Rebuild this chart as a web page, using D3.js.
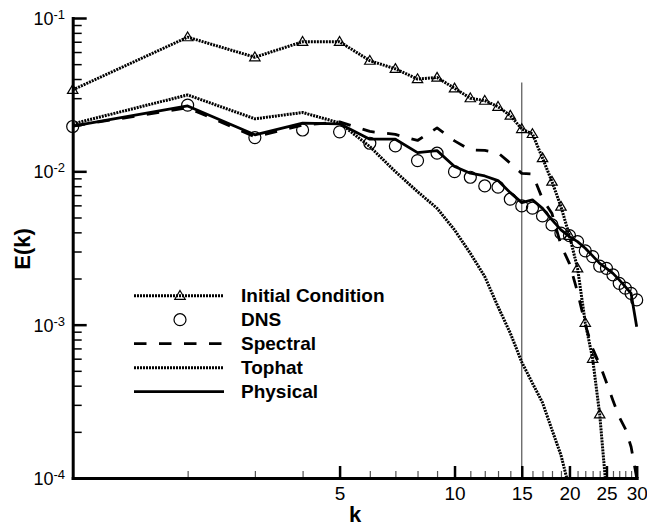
<!DOCTYPE html>
<html>
<head>
<meta charset="utf-8">
<script src="https://cdn.jsdelivr.net/npm/d3@7/dist/d3.min.js"></script>
<style>
  body { margin: 0; background: #fff; }
  svg { display: block; font-family: "Liberation Sans", Arial, Helvetica, sans-serif; }
</style>
</head>
<body>
<script>
// wavenumbers
const kValues = [1, 2, 3, 4, 5, 6, 7, 8, 9, 10, 11, 12, 13, 14, 15,
  16, 17, 18, 19, 20, 21, 22, 23, 24, 25, 26, 27, 28, 29, 30];

// E(k)
const initialCondition = [0.034, 0.075, 0.0555, 0.070, 0.070, 0.0527, 0.0466, 0.040, 0.0409, 0.0348,
  0.030, 0.0289, 0.0264, 0.0231, 0.0189, 0.01754, 0.0122, 0.00857, 0.00589, 0.0038,
  0.00233, 0.00103, 0.0006, 0.00026, 0.000081];
const dns = [0.0196, 0.027, 0.0166, 0.0186, 0.0181, 0.01525, 0.01465, 0.01175, 0.01313, 0.00995,
  0.00915, 0.00803, 0.00788, 0.00658, 0.00595, 0.00575, 0.00512, 0.00447, 0.00395, 0.00381,
  0.00348, 0.00303, 0.00278, 0.00241, 0.00233, 0.00211, 0.00186, 0.00173, 0.0016, 0.00145];
const spectral = [0.0197, 0.026, 0.0168, 0.0200, 0.021, 0.0182, 0.0174, 0.0159, 0.0192, 0.0158,
  0.0138, 0.0137, 0.0132, 0.0113, 0.0097, 0.0096, 0.0066, 0.0053, 0.0033, 0.0025,
  0.00163, 0.0010, 0.0007, 0.00055, 0.00042, 0.00032, 0.00025, 0.00021, 0.00016, 0.0001];
const tophat = [0.0204, 0.0315, 0.022, 0.0242, 0.0207, 0.0145, 0.00995, 0.00737, 0.00574, 0.00415,
  0.00292, 0.00206, 0.00131, 0.00088, 0.00057, 0.000415, 0.00031, 0.000206, 0.000141, 0.000085];
const physical = [0.0197, 0.0267, 0.0173, 0.0206, 0.0204, 0.0162, 0.0162, 0.01325, 0.01365, 0.01074,
  0.00972, 0.00933, 0.0087, 0.00726, 0.00625, 0.00651, 0.00574, 0.00482, 0.00415, 0.00375,
  0.00348, 0.00315, 0.00281, 0.00251, 0.00233, 0.00216, 0.00196, 0.00177, 0.0016, 0.00097];

// filter cutoff marker
const cutoffK = 15;
const cutoffRange = [1e-4, 0.038];

// ticks
const xMajorTicks = [5, 10, 15, 20, 25, 30];
const yMajorTicks = [1e-4, 1e-3, 1e-2, 1e-1];
const yTickExponents = ['-4', '-3', '-2', '-1'];

const series = [
  { name: 'Initial Condition', values: initialCondition, dash: '2,1', width: 3, marker: 'triangle' },
  { name: 'DNS', values: dns, line: false, marker: 'circle' },
  { name: 'Spectral', values: spectral, dash: '12.5,12.5', width: 2.8 },
  { name: 'Tophat', values: tophat, dash: '2,1', width: 3 },
  { name: 'Physical', values: physical, width: 2.8 }
];

const W = 647, H = 527;
const x = d3.scaleLog().domain([1, 30]).range([72.7, 636.7]);
const y = d3.scaleLog().domain([1e-4, 1e-1]).range([478, 18]);

const svg = d3.select('body').append('svg')
  .attr('width', W)
  .attr('height', H);

svg.append('clipPath').attr('id', 'plot')
  .append('rect')
  .attr('x', x(1)).attr('y', y(1e-1))
  .attr('width', x(30) - x(1) + 2)
  .attr('height', y(1e-4) - y(1e-1));

const line = d3.line()
  .x((d, i) => x(kValues[i]))
  .y(d => y(d));

const triangle = 'M0,-5.2L5.2,3.6L-5.2,3.6Z';

function drawMarker(g, type, cx, cy) {
  if (type === 'circle') {
    g.append('circle')
      .attr('cx', cx).attr('cy', cy).attr('r', 6)
      .attr('fill', 'none').attr('stroke', '#000').attr('stroke-width', 1.2);
  } else if (type === 'triangle') {
    g.append('path')
      .attr('d', triangle)
      .attr('transform', `translate(${cx},${cy})`)
      .attr('fill', 'none').attr('stroke', '#000').attr('stroke-width', 1.2);
  }
}

// cutoff line at k = 15
svg.append('line')
  .attr('x1', x(cutoffK)).attr('x2', x(cutoffK))
  .attr('y1', y(cutoffRange[1])).attr('y2', y(cutoffRange[0]))
  .attr('stroke', '#555').attr('stroke-width', 1.2);

const gLines = svg.append('g').attr('clip-path', 'url(#plot)');
series.forEach(s => {
  if (s.line === false) return;
  gLines.append('path')
    .attr('d', line(s.values))
    .attr('fill', 'none')
    .attr('stroke', '#000')
    .attr('stroke-width', s.width)
    .attr('stroke-dasharray', s.dash || null)
    .attr('stroke-linejoin', 'round');
});

const gMarks = svg.append('g');
series.forEach(s => {
  if (!s.marker) return;
  s.values.forEach((v, i) => {
    if (v < 1e-4) return;
    drawMarker(gMarks, s.marker, x(kValues[i]), y(v));
  });
});

// x axis: minor then major
const xMinor = d3.range(2, 30).filter(v => !xMajorTicks.includes(v));
svg.append('g')
  .attr('transform', `translate(0,${y(1e-4)})`)
  .call(d3.axisBottom(x).tickValues(xMinor).tickSizeInner(-7).tickSizeOuter(0).tickFormat(''))
  .call(g => g.select('.domain').remove())
  .call(g => g.selectAll('.tick line').attr('stroke', '#555').attr('stroke-width', 1.2));

svg.append('g')
  .attr('transform', `translate(0,${y(1e-4)})`)
  .call(d3.axisBottom(x).tickValues(xMajorTicks).tickSizeInner(-12).tickSizeOuter(0)
    .tickPadding(8.5).tickFormat(d3.format('d')))
  .call(g => g.select('.domain').attr('stroke-width', 3).attr('stroke-linecap', 'square'))
  .call(g => g.selectAll('.tick line').attr('stroke-width', 2.5))
  .call(g => g.selectAll('.tick text').attr('font-size', 19).attr('fill', '#000'));

// y axis
const yMinor = [];
[1e-4, 1e-3, 1e-2].forEach(p => d3.range(2, 10).forEach(m => yMinor.push(p * m)));
svg.append('g')
  .attr('transform', `translate(${x(1)},0)`)
  .call(d3.axisLeft(y).tickValues(yMinor).tickSizeInner(-9).tickSizeOuter(0).tickFormat(''))
  .call(g => g.select('.domain').remove())
  .call(g => g.selectAll('.tick line').attr('stroke-width', 1.5));

svg.append('g')
  .attr('transform', `translate(${x(1)},0)`)
  .call(d3.axisLeft(y).tickValues(yMajorTicks).tickSizeInner(-14).tickSizeOuter(0).tickFormat(''))
  .call(g => g.select('.domain').attr('stroke-width', 3).attr('stroke-linecap', 'square'))
  .call(g => g.selectAll('.tick line').attr('stroke-width', 2.5));

const yLab = svg.append('g').attr('font-size', 18);
yMajorTicks.forEach((v, i) => {
  const t = yLab.append('text')
    .attr('x', 65).attr('y', y(v) + 7)
    .attr('text-anchor', 'end');
  t.append('tspan').text('10');
  t.append('tspan').attr('font-size', 13).attr('dy', -6).text(yTickExponents[i]);
});

// axis titles
svg.append('text')
  .attr('x', 355).attr('y', 522)
  .attr('text-anchor', 'middle')
  .attr('font-size', 22).attr('font-weight', 'bold')
  .text('k');

svg.append('text')
  .attr('transform', 'translate(30,249) rotate(-90)')
  .attr('text-anchor', 'middle')
  .attr('font-size', 22).attr('font-weight', 'bold')
  .text('E(k)');

// legend
const legend = svg.append('g');
series.forEach((s, i) => {
  const ly = 295.7 + 24 * i;
  if (s.line !== false) {
    legend.append('line')
      .attr('x1', 134).attr('x2', 224)
      .attr('y1', ly).attr('y2', ly)
      .attr('stroke', '#000')
      .attr('stroke-width', s.width)
      .attr('stroke-dasharray', s.dash || null);
  }
  if (s.marker) drawMarker(legend, s.marker, 180, ly);
  legend.append('text')
    .attr('x', 241).attr('y', ly + 6.5)
    .attr('font-size', 19).attr('font-weight', 'bold')
    .text(s.name);
});
</script>
</body>
</html>
